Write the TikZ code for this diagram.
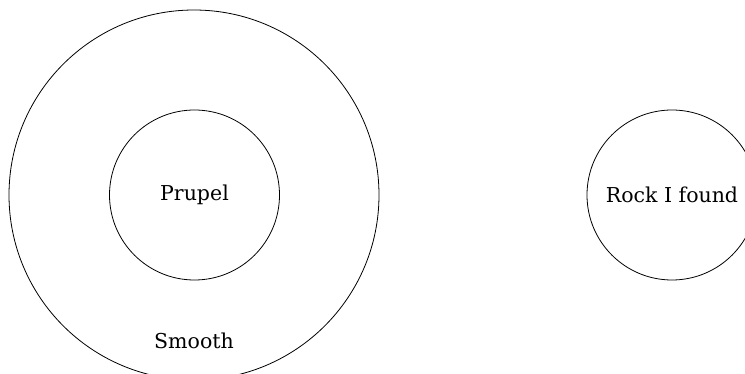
\documentclass[tikz,border=0pt]{standalone}
\usepackage{fontspec}
\setmainfont{DejaVu Serif}
\usetikzlibrary{positioning}

\begin{document}
\begin{tikzpicture}[x=1pt, y=1pt,
    ring/.style={draw, circle, inner sep=0pt, line width=0.8pt},
    font=\fontsize{20.5}{24}\selectfont]
    \useasboundingbox (0, 0) rectangle (745, -374);

    \node[ring, minimum size=370pt] (smooth) at (194, -195) {};
    \node[ring, minimum size=170pt] (prupel) at (194.5, -195) {Prupel};
    \node[ring, minimum size=170pt] (rock) at (672, -195) {Rock I found};
    \node[anchor=base] (smoothlabel) at ([yshift=32pt]smooth.south) {Smooth};
\end{tikzpicture}
\end{document}
